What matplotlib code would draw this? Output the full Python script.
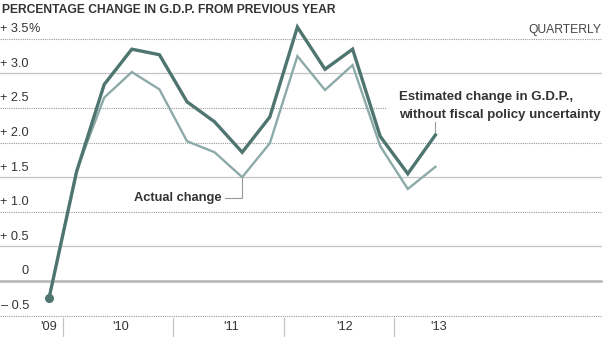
import matplotlib
matplotlib.use("Agg")
import matplotlib.pyplot as plt

plt.rcParams['font.family'] = ['Liberation Sans', 'DejaVu Sans']

# Quarterly GDP growth, 2009 Q4 through 2013 Q2 (percent change from previous year)
quarters = ["2009Q4", "2010Q1", "2010Q2", "2010Q3", "2010Q4",
            "2011Q1", "2011Q2", "2011Q3", "2011Q4",
            "2012Q1", "2012Q2", "2012Q3", "2012Q4",
            "2013Q1", "2013Q2"]
estimated = [-0.25, 1.58, 2.84, 3.35, 3.27, 2.59, 2.30, 1.86, 2.37,
             3.67, 3.06, 3.35, 2.09, 1.55, 2.11]
actual = [-0.25, 1.60, 2.65, 3.02, 2.77, 2.02, 1.86, 1.50, 1.99,
          3.25, 2.76, 3.12, 1.95, 1.33, 1.65]

year_labels = ["'09", "'10", "'11", "'12", "'13"]
year_label_pos = [0, 2.6, 6.6, 10.7, 14.1]
year_breaks = [0.5, 4.5, 8.5, 12.5]

y_ticks = [3.5, 3.0, 2.5, 2.0, 1.5, 1.0, 0.5, 0, -0.5]
y_tick_text = ["+ 3.5", "+ 3.0", "+ 2.5", "+ 2.0", "+ 1.5", "+ 1.0", "+ 0.5", "0", "\u2013 0.5"]
grid_style = ["dot", "solid", "dot", "dot", "solid", "dot", "solid", "zero", "dot"]

W, H = 606, 337
fig = plt.figure(figsize=(W / 100, H / 100), dpi=100)
ax = fig.add_axes([0, 0, 1, 1])
ax.set_axis_off()

# pixel mapping: x_px = 49 + 27.6*i ; y_px(from top) = 281 - 69.2*v
x0, dx = 49.0, 27.6
y0, dy = 281.0, 69.2
ax.set_xlim((0 - x0) / dx, (W - x0) / dx)
ax.set_ylim((y0 - H) / dy, y0 / dy)

def px_x(p):
    return (p - x0) / dx

def px_y(p):
    return (y0 - p) / dy

# gridlines
for v, st in zip(y_ticks, grid_style):
    right = 601
    if v == 2.5:
        right = 386
    if st == "dot":
        ax.plot([px_x(0), px_x(right)], [v, v], color="#9a9a9a", lw=0.8,
                ls=(0, (1, 1)), zorder=1)
    elif st == "solid":
        ax.plot([px_x(0), px_x(right)], [v, v], color="#c4c4c4", lw=0.9, zorder=1)
    else:
        ax.plot([px_x(0), px_x(right)], [v, v], color="#b4b4b4", lw=1.8, zorder=1)

# y labels
for v, t in zip(y_ticks, y_tick_text):
    ax.text(px_x(29), v + 9.5 / dy, t, ha="right", va="center", fontsize=9.2,
            color="#333333")
ax.text(px_x(29), 3.5 + 9.5 / dy, "%", ha="left", va="center", fontsize=9.2,
        color="#333333")

# year separators and labels
for b in year_breaks:
    ax.plot([b, b], [px_y(318), px_y(336)], color="#c4c4c4", lw=0.9)
for p, t in zip(year_label_pos, year_labels):
    ax.text(p, px_y(327), t, ha="center", va="center", fontsize=9.2, color="#333333")

xs = list(range(len(quarters)))
ax.plot(xs, actual, color="#8caba8", lw=1.7, solid_joinstyle="miter", zorder=3)
ax.plot(xs, estimated, color="#4f7570", lw=2.4, solid_joinstyle="miter", zorder=4)
ax.plot([xs[0]], [estimated[0]], "o", color="#4f7570", ms=5.5, zorder=5)

# title and header labels
fig.text(2 / W, 1 - 10 / H, "PERCENTAGE CHANGE IN G.D.P. FROM PREVIOUS YEAR",
         ha="left", va="center", fontsize=8.7, fontweight="bold", color="#333333")
ax.text(px_x(601), px_y(30), "QUARTERLY", ha="right", va="center", fontsize=8.7,
        color="#444444")

# annotations
ax.text(px_x(399), px_y(97), "Estimated change in G.D.P.,", ha="left", va="center",
        fontsize=9.5, fontweight="bold", color="#333333")
ax.text(px_x(399), px_y(115), "without fiscal policy uncertainty", ha="left",
        va="center", fontsize=9.5, fontweight="bold", color="#333333")
ax.plot([xs[14], xs[14]], [px_y(122), px_y(132)], color="#999999", lw=0.8)

ax.text(px_x(222), px_y(198), "Actual change", ha="right", va="center",
        fontsize=9.3, fontweight="bold", color="#333333")
ax.plot([px_x(225), xs[7], xs[7]], [px_y(198), px_y(198), actual[7]],
        color="#999999", lw=0.8, zorder=2)

fig.savefig("out.png", dpi=100)
